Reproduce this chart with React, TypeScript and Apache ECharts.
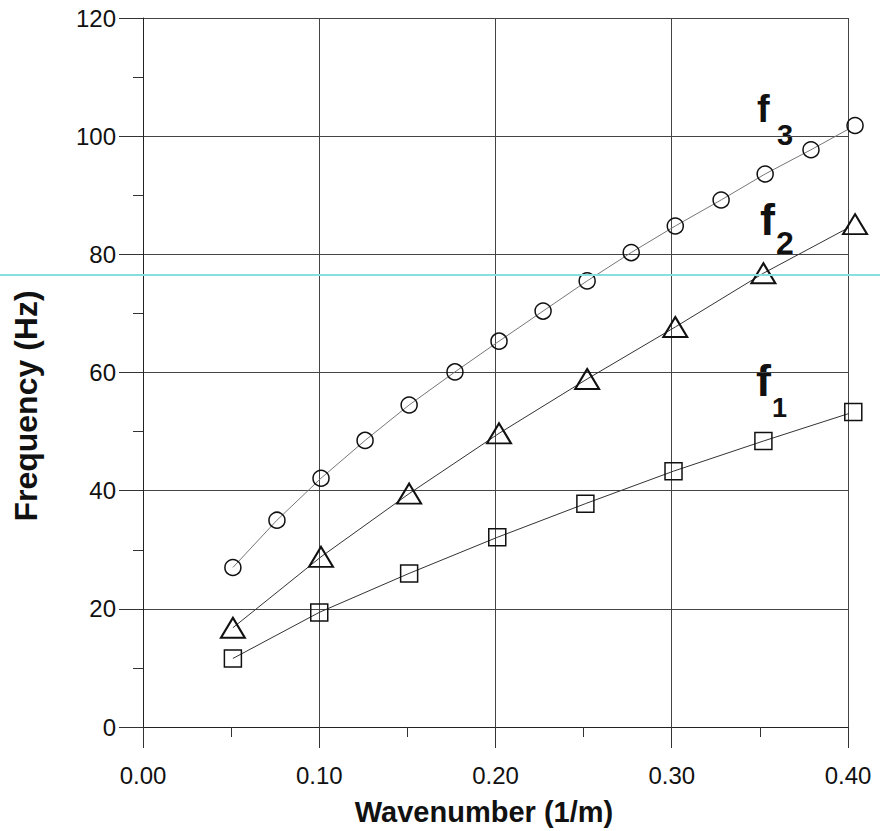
import React, { useEffect, useRef } from "react";
import * as echarts from "echarts";

const xTicks = [0.0, 0.1, 0.2, 0.3, 0.4];
const yTicks = [0, 20, 40, 60, 80, 100, 120];

const f1X = [0.051, 0.1, 0.151, 0.201, 0.251, 0.301, 0.352, 0.403];
const f1Y = [11.6, 19.4, 26.0, 32.1, 37.8, 43.3, 48.4, 53.3];

const f2X = [0.051, 0.101, 0.151, 0.202, 0.252, 0.302, 0.352, 0.404];
const f2Y = [16.8, 28.8, 39.5, 49.7, 58.9, 67.7, 76.8, 85.1];

const f3X = [0.051, 0.076, 0.101, 0.126, 0.151, 0.177, 0.202, 0.227, 0.252, 0.277, 0.302, 0.328, 0.353, 0.379, 0.404];
const f3Y = [27.0, 35.0, 42.1, 48.5, 54.5, 60.1, 65.3, 70.4, 75.5, 80.3, 84.8, 89.2, 93.6, 97.7, 101.8];

const FONT = "'Liberation Sans', Arial, sans-serif";

const zip = (xs: number[], ys: number[]) => xs.map((x, i) => [x, ys[i]]);

export default function App() {
  const ref = useRef<HTMLDivElement>(null);
  useEffect(() => {
    if (!ref.current) return;
    const chart = echarts.init(ref.current, null, { renderer: "svg" });
    const marker = (w: number) => ({
      color: "transparent",
      borderColor: "#111",
      borderWidth: w,
    });
    const lbl = (x: number, y: number, text: string, size: number) => ({
      type: "text",
      x,
      y,
      style: { text, font: `bold ${size}px ${FONT}`, fill: "#111", verticalAlign: "top" },
    });
    chart.setOption({
      animation: false,
      backgroundColor: "#fff",
      grid: { left: 143, right: 32, top: 18, bottom: 104, containLabel: false },
      xAxis: {
        type: "value",
        min: xTicks[0],
        max: xTicks[xTicks.length - 1],
        interval: 0.1,
        axisLine: { show: true, lineStyle: { color: "#222", width: 1 } },
        axisTick: { show: true, inside: false, length: 21, lineStyle: { color: "#333" } },
        minorTick: { show: true, splitNumber: 2, length: 10, lineStyle: { color: "#333" } },
        splitLine: { show: true, lineStyle: { color: "#444", width: 1 } },
        axisLabel: {
          margin: 36,
          fontSize: 24,
          color: "#111",
          fontFamily: FONT,
          formatter: (v: number) => v.toFixed(2),
        },
      },
      yAxis: {
        type: "value",
        min: yTicks[0],
        max: yTicks[yTicks.length - 1],
        interval: 20,
        axisLine: { show: true, lineStyle: { color: "#222", width: 1 } },
        axisTick: { show: true, inside: false, length: 24, lineStyle: { color: "#333" } },
        minorTick: { show: true, splitNumber: 2, length: 10, lineStyle: { color: "#333" } },
        splitLine: { show: true, lineStyle: { color: "#444", width: 1 } },
        axisLabel: {
          margin: 27,
          fontSize: 24,
          color: "#111",
          fontFamily: FONT,
        },
      },
      series: [
        {
          name: "f1",
          type: "line",
          data: zip(f1X, f1Y),
          symbol: "rect",
          symbolSize: 17,
          clip: false,
          lineStyle: { color: "#333", width: 1 },
          itemStyle: marker(1.5),
          z: 3,
        },
        {
          name: "f2",
          type: "line",
          data: zip(f2X, f2Y),
          symbol: "triangle",
          symbolSize: [24, 20],
          clip: false,
          lineStyle: { color: "#333", width: 1 },
          itemStyle: marker(2),
          z: 3,
        },
        {
          name: "f3",
          type: "line",
          data: zip(f3X, f3Y),
          symbol: "circle",
          symbolSize: 16,
          clip: false,
          lineStyle: { color: "#777", width: 1 },
          itemStyle: marker(1.5),
          z: 3,
        },
      ],
      graphic: [
        {
          type: "text",
          x: 484,
          y: 812,
          style: {
            text: "Wavenumber (1/m)",
            font: `bold 29px ${FONT}`,
            fill: "#111",
            align: "center",
            verticalAlign: "middle",
          },
        },
        {
          type: "text",
          x: 26,
          y: 406,
          rotation: Math.PI / 2,
          style: {
            text: "Frequency (Hz)",
            font: `bold 32px ${FONT}`,
            fill: "#111",
            align: "center",
            verticalAlign: "middle",
          },
        },
        lbl(757, 90, "f", 38),
        lbl(777, 120, "3", 29),
        lbl(760, 197, "f", 45),
        lbl(776, 227, "2", 32),
        lbl(756, 358, "f", 45),
        lbl(772, 394, "1", 27),
        {
          type: "line",
          z: 100,
          shape: { x1: 0, y1: 275, x2: 880, y2: 275 },
          style: { stroke: "#86dede", lineWidth: 2 },
        },
      ],
    });
    return () => chart.dispose();
  }, []);
  return (
    <div
      ref={ref}
      style={{ position: "absolute", left: 0, top: 0, width: 880, height: 831, background: "#fff" }}
    />
  );
}
